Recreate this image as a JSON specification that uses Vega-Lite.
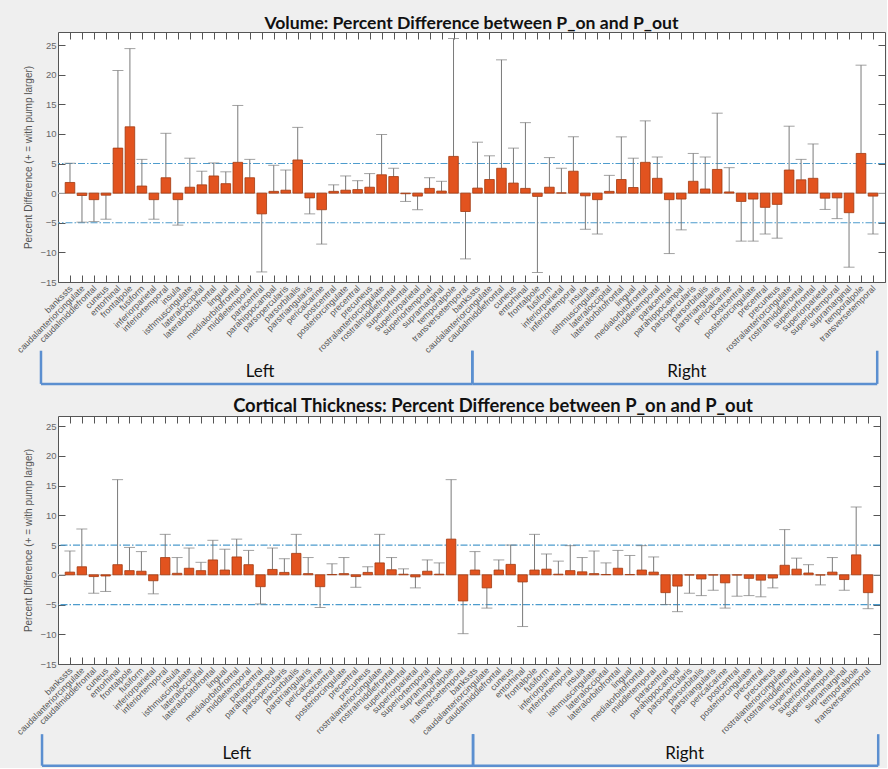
{
"$schema": "https://vega.github.io/schema/vega-lite/v6.json",
"background": "#efefef",
"padding": {"left": 15, "top": 14, "right": 0, "bottom": 0},
"bounds": "flush",
"spacing": 134,
"config": {"view": {"fill": "white", "stroke": "#555", "strokeWidth": 1}, "font": "Liberation Sans", "axis": {"grid": false, "domain": false, "labelOverlap": false, "labelBound": false}},
"datasets": {
"volume": [
{"pos":1,"hemi":"Left","region":"bankssts","value":1.8,"whisker":5.05},
{"pos":2,"hemi":"Left","region":"caudalanteriorcingulate","value":-0.4,"whisker":-4.9},
{"pos":3,"hemi":"Left","region":"caudalmiddlefrontal","value":-1.1,"whisker":-4.8},
{"pos":4,"hemi":"Left","region":"cuneus","value":-0.35,"whisker":-4.4},
{"pos":5,"hemi":"Left","region":"entorhinal","value":7.6,"whisker":20.7},
{"pos":6,"hemi":"Left","region":"frontalpole","value":11.2,"whisker":24.4},
{"pos":7,"hemi":"Left","region":"fusiform","value":1.2,"whisker":5.7},
{"pos":8,"hemi":"Left","region":"inferiorparietal","value":-1.1,"whisker":-4.4},
{"pos":9,"hemi":"Left","region":"inferiortemporal","value":2.6,"whisker":10.1},
{"pos":10,"hemi":"Left","region":"insula","value":-1.1,"whisker":-5.4},
{"pos":11,"hemi":"Left","region":"isthmuscingulate","value":1.0,"whisker":5.9},
{"pos":12,"hemi":"Left","region":"lateraloccipital","value":1.4,"whisker":3.7},
{"pos":13,"hemi":"Left","region":"lateralorbitofrontal","value":2.9,"whisker":5.1},
{"pos":14,"hemi":"Left","region":"lingual","value":1.6,"whisker":3.6},
{"pos":15,"hemi":"Left","region":"medialorbitofrontal","value":5.2,"whisker":14.8},
{"pos":16,"hemi":"Left","region":"middletemporal","value":2.6,"whisker":5.7},
{"pos":17,"hemi":"Left","region":"paracentral","value":-3.5,"whisker":-13.3},
{"pos":18,"hemi":"Left","region":"parahippocampal","value":0.3,"whisker":4.7},
{"pos":19,"hemi":"Left","region":"parsopercularis","value":0.5,"whisker":3.9},
{"pos":20,"hemi":"Left","region":"parsorbitalis","value":5.6,"whisker":11.1},
{"pos":21,"hemi":"Left","region":"parstriangularis","value":-0.8,"whisker":-3.5},
{"pos":22,"hemi":"Left","region":"pericalcarine","value":-2.8,"whisker":-8.6},
{"pos":23,"hemi":"Left","region":"postcentral","value":0.3,"whisker":1.4},
{"pos":24,"hemi":"Left","region":"posteriorcingulate","value":0.5,"whisker":2.9},
{"pos":25,"hemi":"Left","region":"precentral","value":0.6,"whisker":2.1},
{"pos":26,"hemi":"Left","region":"precuneus","value":1.0,"whisker":3.3},
{"pos":27,"hemi":"Left","region":"rostralanteriorcingulate","value":3.1,"whisker":9.9},
{"pos":28,"hemi":"Left","region":"rostralmiddlefrontal","value":2.8,"whisker":4.2},
{"pos":29,"hemi":"Left","region":"superiorfrontal","value":-0.1,"whisker":-1.4},
{"pos":30,"hemi":"Left","region":"superiorparietal","value":-0.5,"whisker":-2.8},
{"pos":31,"hemi":"Left","region":"superiortemporal","value":0.8,"whisker":2.6},
{"pos":32,"hemi":"Left","region":"supramarginal","value":0.35,"whisker":2.0},
{"pos":33,"hemi":"Left","region":"temporalpole","value":6.2,"whisker":26.1},
{"pos":34,"hemi":"Left","region":"transversetemporal","value":-3.1,"whisker":-11.1},
{"pos":35,"hemi":"Right","region":"bankssts","value":0.85,"whisker":8.6},
{"pos":36,"hemi":"Right","region":"caudalanteriorcingulate","value":2.3,"whisker":6.3},
{"pos":37,"hemi":"Right","region":"caudalmiddlefrontal","value":4.2,"whisker":22.5},
{"pos":38,"hemi":"Right","region":"cuneus","value":1.7,"whisker":7.6},
{"pos":39,"hemi":"Right","region":"entorhinal","value":0.8,"whisker":11.9},
{"pos":40,"hemi":"Right","region":"frontalpole","value":-0.55,"whisker":-13.4},
{"pos":41,"hemi":"Right","region":"fusiform","value":1.0,"whisker":6.0},
{"pos":42,"hemi":"Right","region":"inferiorparietal","value":0.05,"whisker":4.2},
{"pos":43,"hemi":"Right","region":"inferiortemporal","value":3.7,"whisker":9.5},
{"pos":44,"hemi":"Right","region":"insula","value":-0.45,"whisker":-6.1},
{"pos":45,"hemi":"Right","region":"isthmuscingulate","value":-1.1,"whisker":-6.9},
{"pos":46,"hemi":"Right","region":"lateraloccipital","value":0.3,"whisker":3.0},
{"pos":47,"hemi":"Right","region":"lateralorbitofrontal","value":2.3,"whisker":9.5},
{"pos":48,"hemi":"Right","region":"lingual","value":0.95,"whisker":5.9},
{"pos":49,"hemi":"Right","region":"medialorbitofrontal","value":5.2,"whisker":12.2},
{"pos":50,"hemi":"Right","region":"middletemporal","value":2.5,"whisker":6.1},
{"pos":51,"hemi":"Right","region":"paracentral","value":-1.1,"whisker":-10.2},
{"pos":52,"hemi":"Right","region":"parahippocampal","value":-1.0,"whisker":-6.2},
{"pos":53,"hemi":"Right","region":"parsopercularis","value":2.0,"whisker":6.7},
{"pos":54,"hemi":"Right","region":"parsorbitalis","value":0.7,"whisker":6.1},
{"pos":55,"hemi":"Right","region":"parstriangularis","value":4.0,"whisker":13.5},
{"pos":56,"hemi":"Right","region":"pericalcarine","value":0.2,"whisker":4.3},
{"pos":57,"hemi":"Right","region":"postcentral","value":-1.4,"whisker":-8.1},
{"pos":58,"hemi":"Right","region":"posteriorcingulate","value":-1.0,"whisker":-8.1},
{"pos":59,"hemi":"Right","region":"precentral","value":-2.4,"whisker":-6.9},
{"pos":60,"hemi":"Right","region":"precuneus","value":-1.9,"whisker":-7.6},
{"pos":61,"hemi":"Right","region":"rostralanteriorcingulate","value":3.9,"whisker":11.3},
{"pos":62,"hemi":"Right","region":"rostralmiddlefrontal","value":2.25,"whisker":5.7},
{"pos":63,"hemi":"Right","region":"superiorfrontal","value":2.5,"whisker":8.3},
{"pos":64,"hemi":"Right","region":"superiorparietal","value":-0.85,"whisker":-2.75},
{"pos":65,"hemi":"Right","region":"superiortemporal","value":-0.8,"whisker":-4.3},
{"pos":66,"hemi":"Right","region":"supramarginal","value":-3.3,"whisker":-12.5},
{"pos":67,"hemi":"Right","region":"temporalpole","value":6.7,"whisker":21.6},
{"pos":68,"hemi":"Right","region":"transversetemporal","value":-0.5,"whisker":-6.9}
],
"thickness": [
{"pos":1,"hemi":"Left","region":"bankssts","value":0.45,"whisker":4.0},
{"pos":2,"hemi":"Left","region":"caudalanteriorcingulate","value":1.35,"whisker":7.7},
{"pos":3,"hemi":"Left","region":"caudalmiddlefrontal","value":-0.3,"whisker":-3.1},
{"pos":4,"hemi":"Left","region":"cuneus","value":-0.2,"whisker":-2.8},
{"pos":5,"hemi":"Left","region":"entorhinal","value":1.7,"whisker":16.0},
{"pos":6,"hemi":"Left","region":"frontalpole","value":0.7,"whisker":4.6},
{"pos":7,"hemi":"Left","region":"fusiform","value":0.6,"whisker":3.9},
{"pos":8,"hemi":"Left","region":"inferiorparietal","value":-1.0,"whisker":-3.2},
{"pos":9,"hemi":"Left","region":"inferiortemporal","value":2.9,"whisker":6.8},
{"pos":10,"hemi":"Left","region":"insula","value":0.25,"whisker":2.9},
{"pos":11,"hemi":"Left","region":"isthmuscingulate","value":1.1,"whisker":4.5},
{"pos":12,"hemi":"Left","region":"lateraloccipital","value":0.7,"whisker":2.1},
{"pos":13,"hemi":"Left","region":"lateralorbitofrontal","value":2.5,"whisker":5.8},
{"pos":14,"hemi":"Left","region":"lingual","value":0.8,"whisker":4.3},
{"pos":15,"hemi":"Left","region":"medialorbitofrontal","value":3.0,"whisker":6.0},
{"pos":16,"hemi":"Left","region":"middletemporal","value":1.7,"whisker":4.1},
{"pos":17,"hemi":"Left","region":"paracentral","value":-2.0,"whisker":-4.9},
{"pos":18,"hemi":"Left","region":"parahippocampal","value":0.9,"whisker":4.5},
{"pos":19,"hemi":"Left","region":"parsopercularis","value":0.4,"whisker":2.7},
{"pos":20,"hemi":"Left","region":"parsorbitalis","value":3.6,"whisker":6.8},
{"pos":21,"hemi":"Left","region":"parstriangularis","value":0.2,"whisker":2.9},
{"pos":22,"hemi":"Left","region":"pericalcarine","value":-2.0,"whisker":-5.5},
{"pos":23,"hemi":"Left","region":"postcentral","value":0.05,"whisker":1.85},
{"pos":24,"hemi":"Left","region":"posteriorcingulate","value":0.2,"whisker":2.9},
{"pos":25,"hemi":"Left","region":"precentral","value":-0.3,"whisker":-2.1},
{"pos":26,"hemi":"Left","region":"precuneus","value":0.4,"whisker":1.35},
{"pos":27,"hemi":"Left","region":"rostralanteriorcingulate","value":2.0,"whisker":6.8},
{"pos":28,"hemi":"Left","region":"rostralmiddlefrontal","value":0.85,"whisker":2.9},
{"pos":29,"hemi":"Left","region":"superiorfrontal","value":0.1,"whisker":1.0},
{"pos":30,"hemi":"Left","region":"superiorparietal","value":-0.35,"whisker":-2.2},
{"pos":31,"hemi":"Left","region":"superiortemporal","value":0.6,"whisker":2.5},
{"pos":32,"hemi":"Left","region":"supramarginal","value":0.1,"whisker":2.0},
{"pos":33,"hemi":"Left","region":"temporalpole","value":6.0,"whisker":16.0},
{"pos":34,"hemi":"Left","region":"transversetemporal","value":-4.4,"whisker":-9.9},
{"pos":35,"hemi":"Right","region":"bankssts","value":0.8,"whisker":3.9},
{"pos":36,"hemi":"Right","region":"caudalanteriorcingulate","value":-2.2,"whisker":-5.6},
{"pos":37,"hemi":"Right","region":"caudalmiddlefrontal","value":0.8,"whisker":2.5},
{"pos":38,"hemi":"Right","region":"cuneus","value":1.75,"whisker":5.0},
{"pos":39,"hemi":"Right","region":"entorhinal","value":-1.2,"whisker":-8.7},
{"pos":40,"hemi":"Right","region":"frontalpole","value":0.8,"whisker":6.8},
{"pos":41,"hemi":"Right","region":"fusiform","value":0.95,"whisker":3.5},
{"pos":42,"hemi":"Right","region":"inferiorparietal","value":0.1,"whisker":2.3},
{"pos":43,"hemi":"Right","region":"inferiortemporal","value":0.7,"whisker":4.9},
{"pos":44,"hemi":"Right","region":"insula","value":0.5,"whisker":2.9},
{"pos":45,"hemi":"Right","region":"isthmuscingulate","value":0.2,"whisker":4.0},
{"pos":46,"hemi":"Right","region":"lateraloccipital","value":0.05,"whisker":2.0},
{"pos":47,"hemi":"Right","region":"lateralorbitofrontal","value":1.1,"whisker":4.1},
{"pos":48,"hemi":"Right","region":"lingual","value":0.05,"whisker":3.25},
{"pos":49,"hemi":"Right","region":"medialorbitofrontal","value":0.8,"whisker":4.9},
{"pos":50,"hemi":"Right","region":"middletemporal","value":0.45,"whisker":3.0},
{"pos":51,"hemi":"Right","region":"paracentral","value":-3.0,"whisker":-5.0},
{"pos":52,"hemi":"Right","region":"parahippocampal","value":-1.9,"whisker":-6.2},
{"pos":53,"hemi":"Right","region":"parsopercularis","value":-0.05,"whisker":-3.1},
{"pos":54,"hemi":"Right","region":"parsorbitalis","value":-0.7,"whisker":-3.5},
{"pos":55,"hemi":"Right","region":"parstriangularis","value":-0.05,"whisker":-2.6},
{"pos":56,"hemi":"Right","region":"pericalcarine","value":-1.35,"whisker":-5.6},
{"pos":57,"hemi":"Right","region":"postcentral","value":-0.05,"whisker":-3.6},
{"pos":58,"hemi":"Right","region":"posteriorcingulate","value":-0.6,"whisker":-3.5},
{"pos":59,"hemi":"Right","region":"precentral","value":-0.9,"whisker":-3.7},
{"pos":60,"hemi":"Right","region":"precuneus","value":-0.55,"whisker":-2.2},
{"pos":61,"hemi":"Right","region":"rostralanteriorcingulate","value":1.6,"whisker":7.6},
{"pos":62,"hemi":"Right","region":"rostralmiddlefrontal","value":0.95,"whisker":2.8},
{"pos":63,"hemi":"Right","region":"superiorfrontal","value":0.3,"whisker":1.7},
{"pos":64,"hemi":"Right","region":"superiorparietal","value":-0.05,"whisker":-1.7},
{"pos":65,"hemi":"Right","region":"superiortemporal","value":0.45,"whisker":2.9},
{"pos":66,"hemi":"Right","region":"supramarginal","value":-0.8,"whisker":-2.6},
{"pos":67,"hemi":"Right","region":"temporalpole","value":3.35,"whisker":11.4},
{"pos":68,"hemi":"Right","region":"transversetemporal","value":-3.0,"whisker":-5.7}
],
"bracketsVolume": [
{"side":"Left","start":-1.42,"end":34.57,"mid":16.85},
{"side":"Right","start":34.57,"end":68.35,"mid":52.46}
],
"bracketsThickness": [
{"side":"Left","start":-1.34,"end":34.84,"mid":15.0},
{"side":"Right","start":34.84,"end":68.85,"mid":52.6}
]
},
"vconcat": [
{
"width": 827, "height": 250,
"title": {"text": "Volume: Percent Difference between P_on and P_out", "font": "Lato", "fontSize": 17.6, "fontWeight": "bold", "color": "#111", "frame": "group", "anchor": "middle", "baseline": "alphabetic", "offset": -15},
"layer": [
{
"data": {"name": "volume"},
"layer": [
{"data": {"values": [{}]}, "mark": {"type": "rule", "color": "#c8c8c8", "strokeWidth": 1}, "encoding": {"y": {"datum": 0}}},
{"data": {"values": [{}]}, "mark": {"type": "rule", "color": "#4d9ccd", "strokeWidth": 1.2, "strokeDash": [7, 2, 1.5, 2]}, "encoding": {"y": {"datum": 5}}},
{"data": {"values": [{}]}, "mark": {"type": "rule", "color": "#4d9ccd", "strokeWidth": 1.2, "strokeDash": [7, 2, 1.5, 2]}, "encoding": {"y": {"datum": -5}}},
{"mark": {"type": "rule", "color": "#7a7a7a", "strokeWidth": 1}, "encoding": {"x": {"field": "pos", "type": "quantitative", "title": null, "scale": {"domain": [0, 69], "nice": false, "padding": 0}}, "y": {"field": "value", "type": "quantitative", "title": "Percent Difference (+ = with pump larger)", "scale": {"domain": [-15, 27.2], "nice": false, "padding": 0}}, "y2": {"field": "whisker"}}},
{"mark": {"type": "tick", "orient": "horizontal", "color": "#7a7a7a", "size": 11, "thickness": 1}, "encoding": {"x": {"field": "pos", "type": "quantitative", "title": null, "scale": {"domain": [0, 69], "nice": false, "padding": 0}}, "y": {"field": "whisker", "type": "quantitative", "title": "Percent Difference (+ = with pump larger)", "scale": {"domain": [-15, 27.2], "nice": false, "padding": 0}}}},
{"mark": {"type": "bar", "orient": "vertical", "width": 9.6, "fill": "#e2531f", "stroke": "#a13a10", "strokeWidth": 0.8}, "encoding": {
"x": {"field": "pos", "type": "quantitative", "title": null, "scale": {"domain": [0, 69], "nice": false, "padding": 0}, "axis": {"orient": "bottom", "values": [1,2,3,4,5,6,7,8,9,10,11,12,13,14,15,16,17,18,19,20,21,22,23,24,25,26,27,28,29,30,31,32,33,34,35,36,37,38,39,40,41,42,43,44,45,46,47,48,49,50,51,52,53,54,55,56,57,58,59,60,61,62,63,64,65,66,67,68], "tickCount": 100, "labels": false, "tickSize": -7, "tickColor": "#555", "domain": false, "grid": false, "title": null, "minExtent": 0, "maxExtent": 0}},
"y": {"field": "value", "type": "quantitative", "title": "Percent Difference (+ = with pump larger)", "scale": {"domain": [-15, 27.2], "nice": false, "padding": 0}, "axis": {"orient": "left", "values": [-15, -10, -5, 0, 5, 10, 15, 20, 25], "tickCount": 20, "labelOverlap": false, "tickSize": -7, "labelPadding": 9, "tickColor": "#555", "labelFontSize": 9.5, "labelColor": "#666", "titleFontSize": 10, "titleFontWeight": "normal", "titleColor": "#555", "titlePadding": 6, "domain": false, "grid": false}}}},
{"mark": {"type": "text", "angle": 315, "align": "right", "baseline": "middle", "fontSize": 8.8, "color": "#555", "xOffset": 1, "yOffset": 5}, "encoding": {"x": {"field": "pos", "type": "quantitative", "title": null, "scale": {"domain": [0, 69], "nice": false, "padding": 0}}, "y": {"datum": -15}, "text": {"field": "region"}}}
]
},
{
"data": {"name": "bracketsVolume"},
"layer": [
{"mark": {"type": "rule", "color": "#5b8fd0", "strokeWidth": 2.5, "clip": false}, "encoding": {
"x": {"field": "start", "type": "quantitative", "title": null, "scale": {"domain": [0, 69], "nice": false, "padding": 0}, "axis": {"orient": "top", "values": [1,2,3,4,5,6,7,8,9,10,11,12,13,14,15,16,17,18,19,20,21,22,23,24,25,26,27,28,29,30,31,32,33,34,35,36,37,38,39,40,41,42,43,44,45,46,47,48,49,50,51,52,53,54,55,56,57,58,59,60,61,62,63,64,65,66,67,68], "tickCount": 100, "labels": false, "tickSize": -7, "tickColor": "#555", "domain": false, "grid": false, "title": null, "minExtent": 0, "maxExtent": 0}},
"x2": {"field": "end"},
"y": {"datum": -32.2, "scale": {"domain": [-15, 27.2], "nice": false, "padding": 0}, "axis": {"orient": "right", "values": [-15, -10, -5, 0, 5, 10, 15, 20, 25], "tickCount": 20, "labels": false, "tickSize": -7, "tickColor": "#555", "domain": false, "grid": false, "title": null, "minExtent": 0, "maxExtent": 0}}}},
{"mark": {"type": "rule", "color": "#5b8fd0", "strokeWidth": 2.5, "clip": false}, "encoding": {"x": {"field": "start", "type": "quantitative", "title": null}, "y": {"datum": -26.6}, "y2": {"datum": -32.2}}},
{"mark": {"type": "rule", "color": "#5b8fd0", "strokeWidth": 2.5, "clip": false}, "encoding": {"x": {"field": "end", "type": "quantitative", "title": null}, "y": {"datum": -26.6}, "y2": {"datum": -32.2}}},
{"mark": {"type": "text", "font": "Lato", "fontSize": 17, "color": "#111", "align": "center", "baseline": "middle", "clip": false}, "encoding": {"x": {"field": "mid", "type": "quantitative", "title": null}, "y": {"datum": -30.2}, "text": {"field": "side"}}}
]
}
],
"resolve": {"scale": {"x": "independent", "y": "independent"}, "axis": {"x": "independent", "y": "independent"}}
},
{
"width": 822, "height": 248,
"title": {"text": "Cortical Thickness: Percent Difference between P_on and P_out", "font": "Lato", "fontSize": 18.4, "fontWeight": "bold", "color": "#111", "frame": "group", "anchor": "middle", "baseline": "alphabetic", "offset": -15, "dx": 24},
"layer": [
{
"data": {"name": "thickness"},
"layer": [
{"data": {"values": [{}]}, "mark": {"type": "rule", "color": "#c8c8c8", "strokeWidth": 1}, "encoding": {"y": {"datum": 0}}},
{"data": {"values": [{}]}, "mark": {"type": "rule", "color": "#4d9ccd", "strokeWidth": 1.2, "strokeDash": [7, 2, 1.5, 2]}, "encoding": {"y": {"datum": 5}}},
{"data": {"values": [{}]}, "mark": {"type": "rule", "color": "#4d9ccd", "strokeWidth": 1.2, "strokeDash": [7, 2, 1.5, 2]}, "encoding": {"y": {"datum": -5}}},
{"mark": {"type": "rule", "color": "#7a7a7a", "strokeWidth": 1}, "encoding": {"x": {"field": "pos", "type": "quantitative", "title": null, "scale": {"domain": [0, 69], "nice": false, "padding": 0}}, "y": {"field": "value", "type": "quantitative", "title": "Percent Difference (+ = with pump larger)", "scale": {"domain": [-15, 26.7], "nice": false, "padding": 0}}, "y2": {"field": "whisker"}}},
{"mark": {"type": "tick", "orient": "horizontal", "color": "#7a7a7a", "size": 11, "thickness": 1}, "encoding": {"x": {"field": "pos", "type": "quantitative", "title": null, "scale": {"domain": [0, 69], "nice": false, "padding": 0}}, "y": {"field": "whisker", "type": "quantitative", "title": "Percent Difference (+ = with pump larger)", "scale": {"domain": [-15, 26.7], "nice": false, "padding": 0}}}},
{"mark": {"type": "bar", "orient": "vertical", "width": 9.4, "fill": "#e2531f", "stroke": "#a13a10", "strokeWidth": 0.8}, "encoding": {
"x": {"field": "pos", "type": "quantitative", "title": null, "scale": {"domain": [0, 69], "nice": false, "padding": 0}, "axis": {"orient": "bottom", "values": [1,2,3,4,5,6,7,8,9,10,11,12,13,14,15,16,17,18,19,20,21,22,23,24,25,26,27,28,29,30,31,32,33,34,35,36,37,38,39,40,41,42,43,44,45,46,47,48,49,50,51,52,53,54,55,56,57,58,59,60,61,62,63,64,65,66,67,68], "tickCount": 100, "labels": false, "tickSize": -7, "tickColor": "#555", "domain": false, "grid": false, "title": null, "minExtent": 0, "maxExtent": 0}},
"y": {"field": "value", "type": "quantitative", "title": "Percent Difference (+ = with pump larger)", "scale": {"domain": [-15, 26.7], "nice": false, "padding": 0}, "axis": {"orient": "left", "values": [-15, -10, -5, 0, 5, 10, 15, 20, 25], "tickCount": 20, "labelOverlap": false, "tickSize": -7, "labelPadding": 9, "tickColor": "#555", "labelFontSize": 9.5, "labelColor": "#666", "titleFontSize": 10, "titleFontWeight": "normal", "titleColor": "#555", "titlePadding": 6, "domain": false, "grid": false}}}},
{"mark": {"type": "text", "angle": 315, "align": "right", "baseline": "middle", "fontSize": 8.8, "color": "#555", "xOffset": 1, "yOffset": 5}, "encoding": {"x": {"field": "pos", "type": "quantitative", "title": null, "scale": {"domain": [0, 69], "nice": false, "padding": 0}}, "y": {"datum": -15}, "text": {"field": "region"}}}
]
},
{
"data": {"name": "bracketsThickness"},
"layer": [
{"mark": {"type": "rule", "color": "#5b8fd0", "strokeWidth": 2.5, "clip": false}, "encoding": {
"x": {"field": "start", "type": "quantitative", "title": null, "scale": {"domain": [0, 69], "nice": false, "padding": 0}, "axis": {"orient": "top", "values": [1,2,3,4,5,6,7,8,9,10,11,12,13,14,15,16,17,18,19,20,21,22,23,24,25,26,27,28,29,30,31,32,33,34,35,36,37,38,39,40,41,42,43,44,45,46,47,48,49,50,51,52,53,54,55,56,57,58,59,60,61,62,63,64,65,66,67,68], "tickCount": 100, "labels": false, "tickSize": -7, "tickColor": "#555", "domain": false, "grid": false, "title": null, "minExtent": 0, "maxExtent": 0}},
"x2": {"field": "end"},
"y": {"datum": -32.1, "scale": {"domain": [-15, 26.7], "nice": false, "padding": 0}, "axis": {"orient": "right", "values": [-15, -10, -5, 0, 5, 10, 15, 20, 25], "tickCount": 20, "labels": false, "tickSize": -7, "tickColor": "#555", "domain": false, "grid": false, "title": null, "minExtent": 0, "maxExtent": 0}}}},
{"mark": {"type": "rule", "color": "#5b8fd0", "strokeWidth": 2.5, "clip": false}, "encoding": {"x": {"field": "start", "type": "quantitative", "title": null}, "y": {"datum": -26.8}, "y2": {"datum": -32.1}}},
{"mark": {"type": "rule", "color": "#5b8fd0", "strokeWidth": 2.5, "clip": false}, "encoding": {"x": {"field": "end", "type": "quantitative", "title": null}, "y": {"datum": -26.8}, "y2": {"datum": -32.1}}},
{"mark": {"type": "text", "font": "Lato", "fontSize": 17, "color": "#111", "align": "center", "baseline": "middle", "clip": false}, "encoding": {"x": {"field": "mid", "type": "quantitative", "title": null}, "y": {"datum": -30.1}, "text": {"field": "side"}}}
]
}
],
"resolve": {"scale": {"x": "independent", "y": "independent"}, "axis": {"x": "independent", "y": "independent"}}
}
]
}
